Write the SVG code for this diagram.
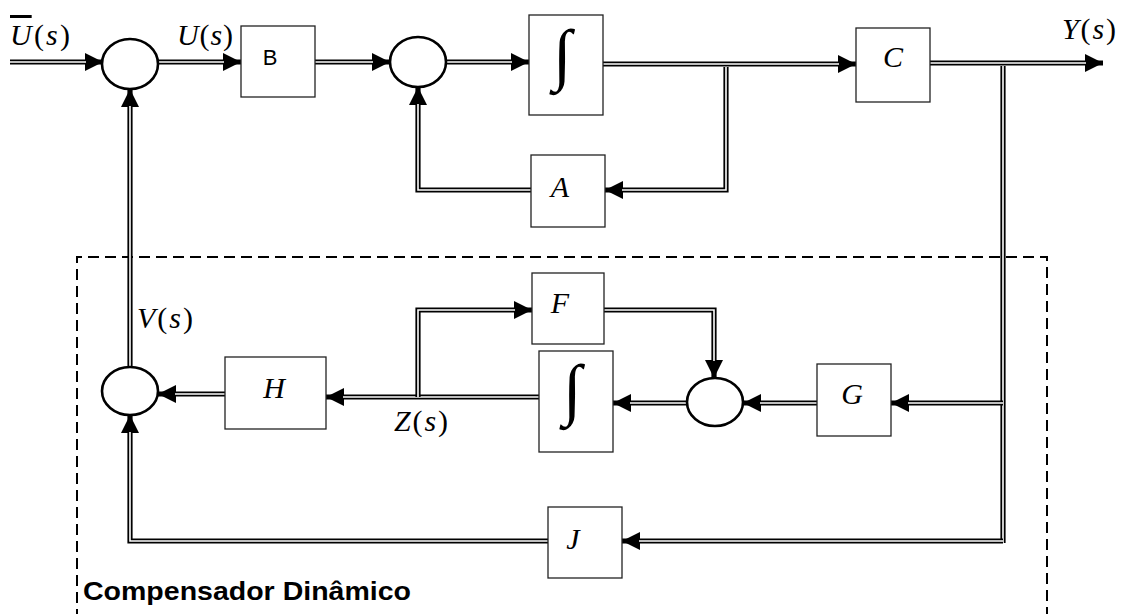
<svg xmlns="http://www.w3.org/2000/svg" width="1123" height="614" viewBox="0 0 1123 614">
<style>
.bg{fill:#fff}
.box{fill:#fff;stroke:#222;stroke-width:1.3}
.sum{fill:#fff;stroke:#000;stroke-width:2.6}
.o{fill:none;stroke:#000;stroke-width:5.2;stroke-linejoin:miter;stroke-linecap:butt}
.i{fill:none;stroke:#fff;stroke-width:1.6;stroke-linejoin:miter;stroke-linecap:butt}
.m{font-family:"Liberation Serif","DejaVu Serif",serif;font-size:30px;fill:#000}
.it{font-style:italic}
.lt{font-family:"Liberation Serif","DejaVu Serif",serif;font-style:italic;font-size:30px;fill:#000;text-anchor:middle}
.int{font-family:"Liberation Serif","DejaVu Serif",serif;font-size:68px;fill:#000;text-anchor:middle}
.dash{fill:none;stroke:#000;stroke-width:2;stroke-dasharray:11 6}
</style>
<defs>
<marker id="ah" markerUnits="userSpaceOnUse" markerWidth="18" markerHeight="18" refX="18" refY="9" orient="auto" viewBox="0 0 18 18">
<path d="M0,0 L18,9 L0,18 z" fill="#000"/>
</marker>
</defs>
<rect class="bg" x="0" y="0" width="1123" height="614"/>

<path id="compensator-border" class="dash" d="M77,620 V257 H1047 V620"/>

<g id="connectors">
<path class="o" d="M10,62 H103" marker-end="url(#ah)"/><path class="i" d="M10,62 H86"/>
<path class="o" d="M158,62 H241" marker-end="url(#ah)"/><path class="i" d="M158,62 H224"/>
<path class="o" d="M315,62 H390" marker-end="url(#ah)"/><path class="i" d="M315,62 H373"/>
<path class="o" d="M446,62 H529" marker-end="url(#ah)"/><path class="i" d="M446,62 H512"/>
<path class="o" d="M603,64 H856" marker-end="url(#ah)"/><path class="i" d="M603,64 H839"/>
<path class="o" d="M726,67 V190 H605" marker-end="url(#ah)"/><path class="i" d="M726,67 V190 H622"/>
<path class="o" d="M531,190 H418 V87" marker-end="url(#ah)"/><path class="i" d="M531,190 H418 V104"/>
<path class="o" d="M930,63 H1103" marker-end="url(#ah)"/><path class="i" d="M930,63 H1086"/>
<path class="o" d="M1003,66 V543"/><path class="i" d="M1003,66 V543"/>
<path class="o" d="M1003,403 H891" marker-end="url(#ah)"/><path class="i" d="M1003,403 H908"/>
<path class="o" d="M817,403 H743" marker-end="url(#ah)"/><path class="i" d="M817,403 H760"/>
<path class="o" d="M687,403 H613" marker-end="url(#ah)"/><path class="i" d="M687,403 H630"/>
<path class="o" d="M604,310 H714 V378" marker-end="url(#ah)"/><path class="i" d="M604,310 H714 V361"/>
<path class="o" d="M539,397 H326" marker-end="url(#ah)"/><path class="i" d="M539,397 H343"/>
<path class="o" d="M418,397 V310 H532" marker-end="url(#ah)"/><path class="i" d="M418,397 V310 H515"/>
<path class="o" d="M225,394 H158" marker-end="url(#ah)"/><path class="i" d="M225,394 H175"/>
<path class="o" d="M1003,541 H622" marker-end="url(#ah)"/><path class="i" d="M1003,541 H639"/>
<path class="o" d="M548,541 H130 V415" marker-end="url(#ah)"/><path class="i" d="M548,541 H130 V432"/>
<path class="o" d="M130,367 V89" marker-end="url(#ah)"/><path class="i" d="M130,367 V106"/>
</g>

<g id="sum1"><ellipse class="sum" cx="130" cy="64" rx="28" ry="25"/></g>
<g id="B"><rect class="box" x="241" y="26" width="74" height="71"/><text x="270" y="65" font-family="Liberation Sans, Arial, sans-serif" font-size="22" text-anchor="middle">B</text></g>
<g id="sum2"><ellipse class="sum" cx="418" cy="62" rx="28" ry="25"/></g>
<g id="integrator1"><rect class="box" x="529" y="15" width="74" height="100"/><text class="int" x="562" y="77">∫</text></g>
<g id="A"><rect class="box" x="531" y="155" width="74" height="72"/><text class="lt" x="560" y="197">A</text></g>
<g id="C"><rect class="box" x="856" y="28" width="74" height="74"/><text class="lt" x="893" y="67">C</text></g>
<g id="sum3"><ellipse class="sum" cx="130" cy="391" rx="28" ry="24"/></g>
<g id="H"><rect class="box" x="225" y="357" width="101" height="72"/><text class="lt" x="274" y="398">H</text></g>
<g id="F"><rect class="box" x="532" y="273" width="72" height="71"/><text class="lt" x="560" y="313">F</text></g>
<g id="integrator2"><rect class="box" x="539" y="351" width="74" height="101"/><text class="int" x="572" y="412">∫</text></g>
<g id="sum4"><ellipse class="sum" cx="715" cy="402" rx="28" ry="24"/></g>
<g id="G"><rect class="box" x="817" y="364" width="74" height="72"/><text class="lt" x="852" y="404">G</text></g>
<g id="J"><rect class="box" x="548" y="507" width="74" height="71"/><text class="lt" x="573" y="549">J</text></g>

<g id="labels">
<text class="m" x="10" y="45" textLength="60" lengthAdjust="spacing"><tspan class="it" text-decoration="overline">U</tspan>(<tspan class="it">s</tspan>)</text>
<text class="m" x="177" y="45" textLength="56" lengthAdjust="spacing"><tspan class="it">U</tspan>(<tspan class="it">s</tspan>)</text>
<text class="m" x="1062" y="39" textLength="54" lengthAdjust="spacing"><tspan class="it">Y</tspan>(<tspan class="it">s</tspan>)</text>
<text class="m" x="137" y="328" textLength="56" lengthAdjust="spacing"><tspan class="it">V</tspan>(<tspan class="it">s</tspan>)</text>
<text class="m" x="394" y="431" textLength="54" lengthAdjust="spacing"><tspan class="it">Z</tspan>(<tspan class="it">s</tspan>)</text>
<text x="83" y="600" font-family="Liberation Sans, Arial, sans-serif" font-weight="bold" font-size="25" textLength="328" lengthAdjust="spacingAndGlyphs">Compensador Dinâmico</text>
</g>
</svg>
